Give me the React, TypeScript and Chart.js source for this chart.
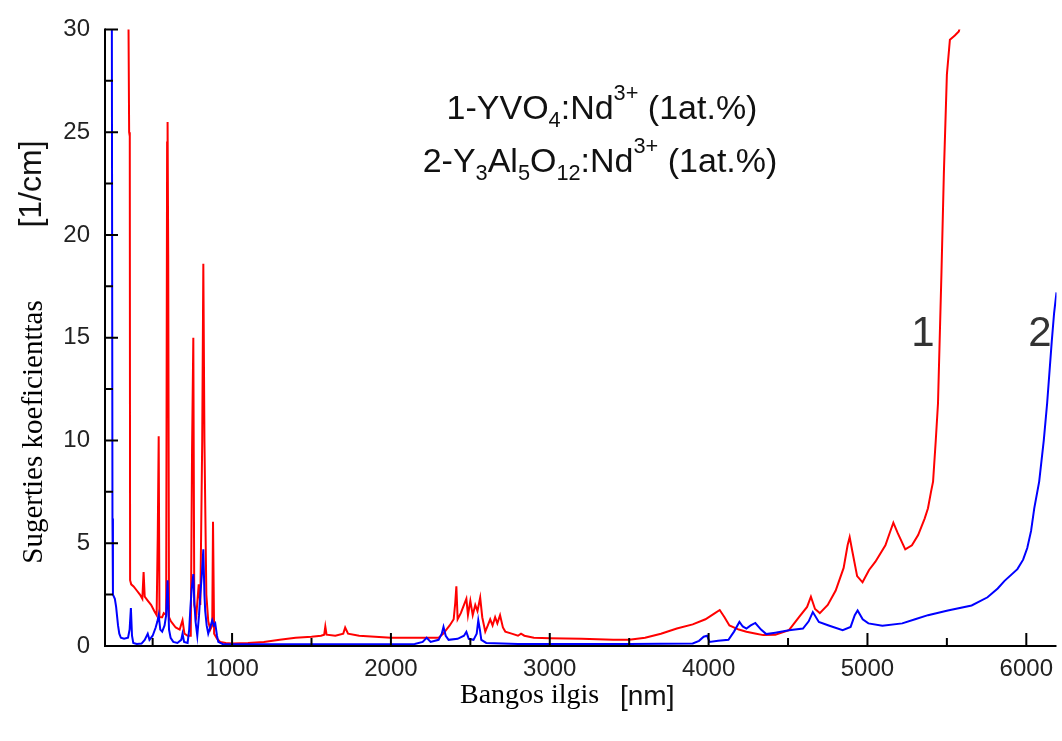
import React, { useEffect, useRef } from 'react';
import { Chart, registerables } from 'chart.js';

Chart.register(...registerables);

// ---- axis ranges & ticks ----
const xMin = 200;
const xMax = 6190;
const yMin = 0;
const yMax = 30;
const xTickValues = [500, 1000, 1500, 2000, 2500, 3000, 3500, 4000, 4500, 5000, 5500, 6000];
const yTickValues = [0, 2.5, 5, 7.5, 10, 12.5, 15, 17.5, 20, 22.5, 25, 27.5, 30];

// ---- series 1: YVO4:Nd3+ (red) ----
const yvoWavelength = [
  348, 352, 356, 358, 365, 380, 400, 420, 435, 443, 450, 470, 490, 510, 525, 532, 538, 543, 560, 570,
  585, 591, 594, 598, 603, 615, 625, 645, 670, 688, 700, 720, 740, 748, 756, 762, 775, 790, 800, 812,
  819, 826, 838, 850, 863, 875, 880, 887, 906, 925, 960, 1000, 1100, 1200, 1300, 1400, 1500, 1560, 1580, 1587,
  1595, 1650, 1700, 1712, 1730, 1800, 1900, 2000, 2100, 2200, 2300, 2330, 2370, 2395, 2405, 2412, 2420, 2440, 2460, 2475,
  2485, 2500, 2515, 2531, 2545, 2562, 2575, 2594, 2610, 2625, 2640, 2656, 2670, 2687, 2705, 2720, 2760, 2800, 2819, 2840,
  2900, 3000, 3200, 3400, 3500, 3600, 3700, 3800, 3900, 3980, 4040, 4070, 4100, 4131, 4190, 4238, 4300, 4344, 4420, 4506,
  4569, 4620, 4644, 4670, 4700, 4750, 4800, 4850, 4875, 4888, 4905, 4935, 4969, 5010, 5050, 5113, 5140, 5163, 5190, 5238,
  5280, 5319, 5360, 5381, 5400, 5413, 5430, 5444, 5466, 5481, 5500, 5519, 5550, 5575, 5585,
];
const yvoAbsorption = [
  30.2, 25, 24.8, 3.2, 3.0, 2.9, 2.7, 2.5, 2.3, 3.6, 2.4, 2.2, 2.0, 1.7, 1.5, 5.3, 10.2, 1.4, 1.4, 1.6,
  1.5, 24.5, 25.5, 19, 1.4, 1.2, 1.1, 0.9, 0.8, 1.25, 0.6, 0.5, 0.5, 9.5, 15.0, 2.0, 1.5, 3.0, 2.0, 10,
  18.6, 10.0, 2.5, 1.2, 0.8, 1.0, 6.05, 0.6, 0.35, 0.2, 0.15, 0.12, 0.15, 0.2, 0.3, 0.4, 0.45, 0.5, 0.55, 0.95,
  0.55, 0.5, 0.6, 0.9, 0.6, 0.5, 0.45, 0.4, 0.4, 0.4, 0.4, 0.6, 1.0, 1.3, 2.1, 2.9, 1.3, 1.6, 2.0, 2.3,
  1.5, 2.2, 1.5, 2.0, 1.7, 2.35, 1.4, 0.7, 1.0, 1.3, 1.0, 1.4, 1.1, 1.5, 0.9, 0.7, 0.6, 0.5, 0.6, 0.5,
  0.4, 0.38, 0.35, 0.3, 0.3, 0.4, 0.6, 0.85, 1.05, 1.3, 1.6, 1.75, 1.4, 1.0, 0.8, 0.69, 0.6, 0.53, 0.55, 0.77,
  1.4, 1.9, 2.4, 1.8, 1.6, 2.0, 2.7, 3.8, 4.9, 5.3, 4.6, 3.4, 3.1, 3.7, 4.1, 4.9, 5.5, 6.0, 5.5, 4.7,
  4.9, 5.4, 6.2, 6.7, 7.5, 8.0, 10, 11.8, 18.2, 23.0, 27.8, 29.5, 29.7, 29.9, 30.2,
];

// ---- series 2: Y3Al5O12:Nd3+ (blue) ----
const yagWavelength = [
  243, 247, 250, 262, 270, 282, 290, 300, 320, 345, 355, 363, 370, 378, 400, 430, 450, 469, 480, 500,
  519, 530, 538, 548, 560, 575, 585, 594, 603, 613, 630, 656, 680, 688, 698, 720, 730, 738, 746, 756,
  762, 770, 781, 792, 800, 810, 819, 826, 831, 840, 850, 862, 875, 885, 894, 905, 913, 940, 1000, 1500,
  2000, 2150, 2200, 2225, 2250, 2300, 2320, 2331, 2345, 2363, 2420, 2460, 2475, 2490, 2520, 2540, 2550, 2560, 2569, 2600,
  2800, 3000, 3500, 3900, 3940, 3969, 3990, 4006, 4060, 4125, 4160, 4194, 4215, 4238, 4265, 4294, 4330, 4363, 4420, 4506,
  4594, 4630, 4656, 4694, 4756, 4844, 4894, 4920, 4938, 4970, 5006, 5094, 5219, 5300, 5381, 5506, 5656, 5756, 5820, 5863,
  5944, 5980, 6006, 6030, 6050, 6081, 6110, 6131, 6160, 6175, 6190,
];
const yagAbsorption = [
  31, 6.2, 2.5, 2.3, 1.9, 1.0, 0.6, 0.4, 0.35, 0.4, 0.8, 1.85, 0.5, 0.15, 0.1, 0.12, 0.3, 0.6, 0.3, 0.5,
  0.9, 1.2, 1.5, 0.8, 0.7, 1.0, 1.5, 3.2, 0.8, 0.4, 0.2, 0.15, 0.3, 0.6, 0.2, 0.15, 0.8, 1.9, 2.8, 3.5,
  2.2, 1.2, 0.5, 1.5, 2.5, 3.5, 4.7, 2.5, 1.7, 1.0, 0.6, 0.9, 1.25, 1.0, 1.1, 0.5, 0.2, 0.1, 0.08, 0.08,
  0.08, 0.1, 0.2, 0.4, 0.2, 0.3, 0.6, 0.93, 0.5, 0.3, 0.35, 0.5, 0.69, 0.35, 0.3, 0.6, 1.25, 0.8, 0.3, 0.15,
  0.1, 0.1, 0.1, 0.12, 0.25, 0.45, 0.5, 0.2, 0.25, 0.3, 0.7, 1.17, 0.95, 0.85, 1.0, 1.12, 0.8, 0.58, 0.65, 0.77,
  0.85, 1.2, 1.65, 1.17, 1.0, 0.77, 0.93, 1.5, 1.73, 1.3, 1.1, 0.98, 1.1, 1.3, 1.5, 1.73, 1.97, 2.37, 2.8, 3.17,
  3.74, 4.2, 4.77, 5.6, 6.7, 8.0, 10.0, 11.8, 14.8, 16.2, 17.2,
];

// ---- texts ----
const yTitleMain = 'Sugerties koeficienttas';
const yTitleUnit = '[1/cm]';
const xTitleMain = 'Bangos ilgis';
const xTitleUnit = '[nm]';
type Run = { t: string; k?: 'sub' | 'sup' };
const legendLine1: Run[] = [
  { t: '1-YVO' }, { t: '4', k: 'sub' }, { t: ':Nd' }, { t: '3+', k: 'sup' }, { t: ' (1at.%)' },
];
const legendLine2: Run[] = [
  { t: '2-Y' }, { t: '3', k: 'sub' }, { t: 'Al' }, { t: '5', k: 'sub' }, { t: 'O' }, { t: '12', k: 'sub' },
  { t: ':Nd' }, { t: '3+', k: 'sup' }, { t: ' (1at.%)' },
];
const curveLabel1 = '1';
const curveLabel2 = '2';

const SANS = "'Liberation Sans', Arial, sans-serif";
const SERIF = "'Liberation Serif', 'Times New Roman', serif";

function drawRuns(ctx: CanvasRenderingContext2D, runs: Run[], cx: number, cy: number, size: number) {
  const small = size * 0.64;
  const widths = runs.map((r) => {
    ctx.font = `${r.k ? small : size}px ${SANS}`;
    return ctx.measureText(r.t).width;
  });
  const total = widths.reduce((a, b) => a + b, 0);
  let x = cx - total / 2;
  const base = cy + size * 0.358;
  ctx.textAlign = 'left';
  ctx.textBaseline = 'alphabetic';
  runs.forEach((r, i) => {
    ctx.font = `${r.k ? small : size}px ${SANS}`;
    const dy = r.k === 'sub' ? size * 0.24 : r.k === 'sup' ? -size * 0.55 : 0;
    ctx.fillText(r.t, x, base + dy);
    x += widths[i];
  });
}

const decorPlugin = {
  id: 'decor',
  afterDatasetsDraw(chart: any) {
    const { ctx, chartArea, scales } = chart;
    const xs = scales.x;
    const ys = scales.y;
    ctx.save();
    ctx.strokeStyle = '#000';
    ctx.lineWidth = 2;
    ctx.beginPath();
    ctx.moveTo(chartArea.left, chartArea.top - 1);
    ctx.lineTo(chartArea.left, chartArea.bottom);
    ctx.lineTo(chartArea.right, chartArea.bottom);
    ctx.stroke();
    ctx.beginPath();
    ys.ticks.forEach((t: any) => {
      const py = ys.getPixelForValue(t.value);
      const len = t.value % 5 === 0 ? 13 : 8;
      ctx.moveTo(chartArea.left, py);
      ctx.lineTo(chartArea.left + len, py);
    });
    xs.ticks.forEach((t: any) => {
      const px = xs.getPixelForValue(t.value);
      const len = t.value % 1000 === 0 ? 13 : 8;
      ctx.moveTo(px, chartArea.bottom);
      ctx.lineTo(px, chartArea.bottom - len);
    });
    ctx.stroke();
    ctx.restore();
  },
  afterDraw(chart: any) {
    const { ctx } = chart;
    ctx.save();
    ctx.fillStyle = '#111';
    // legend block
    drawRuns(ctx, legendLine1, 602, 107, 34);
    drawRuns(ctx, legendLine2, 600, 160, 34);
    // curve labels
    ctx.fillStyle = '#333';
    ctx.font = `42px ${SANS}`;
    ctx.textAlign = 'center';
    ctx.textBaseline = 'middle';
    ctx.fillText(curveLabel1, 923, 334);
    ctx.fillText(curveLabel2, 1040, 334);
    // x title
    ctx.fillStyle = '#000';
    ctx.textBaseline = 'alphabetic';
    ctx.textAlign = 'left';
    ctx.font = `28px ${SERIF}`;
    ctx.fillText(xTitleMain, 460, 703);
    ctx.fillStyle = '#111';
    ctx.font = `28px ${SANS}`;
    ctx.fillText(xTitleUnit, 620, 705);
    // y title (rotated)
    ctx.save();
    ctx.translate(42, 432);
    ctx.rotate(-Math.PI / 2);
    ctx.fillStyle = '#000';
    ctx.textAlign = 'center';
    ctx.font = `29px ${SERIF}`;
    ctx.fillText(yTitleMain, 0, 0);
    ctx.restore();
    ctx.save();
    ctx.translate(41, 184);
    ctx.rotate(-Math.PI / 2);
    ctx.fillStyle = '#111';
    ctx.textAlign = 'center';
    ctx.font = `32px ${SANS}`;
    ctx.fillText(yTitleUnit, 0, 0);
    ctx.restore();
    ctx.restore();
  },
};

export default function App() {
  const canvasRef = useRef<HTMLCanvasElement | null>(null);

  useEffect(() => {
    document.body.style.margin = '0';
    const canvas = canvasRef.current;
    if (!canvas) return;
    const toPoints = (xs: number[], ys: number[]) => xs.map((x, i) => ({ x, y: ys[i] }));
    const chart = new Chart(canvas, {
      type: 'line',
      data: {
        datasets: [
          {
            label: '2-Y3Al5O12:Nd3+ (1at.%)',
            data: toPoints(yagWavelength, yagAbsorption),
            borderColor: '#0000ff',
            borderWidth: 2,
            pointRadius: 0,
            tension: 0,
            fill: false,
            order: 0,
          },
          {
            label: '1-YVO4:Nd3+ (1at.%)',
            data: toPoints(yvoWavelength, yvoAbsorption),
            borderColor: '#ff0000',
            borderWidth: 2,
            pointRadius: 0,
            tension: 0,
            fill: false,
            order: 1,
          },
        ],
      },
      options: {
        responsive: false,
        animation: false,
        devicePixelRatio: 1,
        layout: { padding: { top: 22, right: 0, bottom: 0, left: 0 } },
        plugins: {
          legend: { display: false },
          tooltip: { enabled: false },
          title: { display: false },
        },
        scales: {
          x: {
            type: 'linear',
            min: xMin,
            max: xMax,
            grid: { display: false, drawTicks: false },
            border: { display: false },
            afterBuildTicks: (s: any) => {
              s.ticks = xTickValues.map((v) => ({ value: v }));
            },
            afterFit: (s: any) => {
              s.height = 95;
            },
            ticks: {
              autoSkip: false,
              maxRotation: 0,
              padding: 9,
              color: '#222',
              font: { family: SANS, size: 24 },
              callback: (v: any) => (Number(v) % 1000 === 0 ? String(v) : ''),
            },
          },
          y: {
            type: 'linear',
            min: yMin,
            max: yMax,
            grid: { display: false, drawTicks: false },
            border: { display: false },
            afterBuildTicks: (s: any) => {
              s.ticks = yTickValues.map((v) => ({ value: v }));
            },
            afterFit: (s: any) => {
              s.width = 105;
            },
            ticks: {
              autoSkip: false,
              padding: 15,
              color: '#222',
              font: { family: SANS, size: 24 },
              callback: (v: any) => (Number(v) % 5 === 0 ? String(v) : ''),
            },
          },
        },
      },
      plugins: [decorPlugin],
    } as any);
    return () => chart.destroy();
  }, []);

  return (
    <div style={{ width: 1062, height: 741, background: '#fff' }}>
      <canvas ref={canvasRef} width={1062} height={741} />
    </div>
  );
}
